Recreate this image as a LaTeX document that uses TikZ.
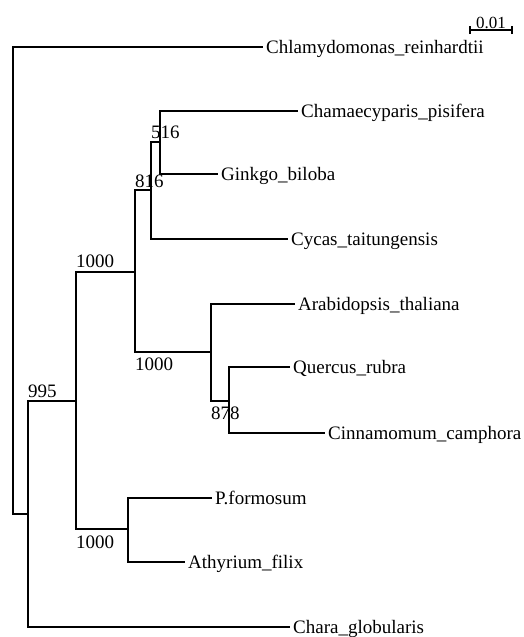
\documentclass[tikz,border=0pt]{standalone}
\usepackage{fontspec}
\setmainfont{Liberation Serif}
\begin{document}
\begin{tikzpicture}[x=1pt,y=-1pt,
  br/.style={line width=1.2pt, black},
  leaf/.style={anchor=west, inner xsep=3pt, inner ysep=0pt, text height=13pt, text depth=0pt, font=\fontsize{19}{19}\selectfont},
  boot/.style={anchor=base west, inner sep=0pt, font=\fontsize{19}{19}\selectfont},
  scalelbl/.style={anchor=base, inner sep=0pt, font=\fontsize{17}{17}\selectfont}]
\useasboundingbox (0,0) rectangle (524,637);
% internal nodes
\coordinate (root) at (13,280);
\coordinate (a) at (28,514);
\coordinate (b) at (76,401);
\coordinate (c) at (135,272);
\coordinate (d) at (151,190);
\coordinate (e) at (160,142);
\coordinate (g) at (211,352);
\coordinate (h) at (229,401);
\coordinate (f) at (128,529);
% leaves
\node[leaf] (chlam) at (263,47) {Chlamydomonas\_reinhardtii};
\node[leaf] (chama) at (298,111) {Chamaecyparis\_pisifera};
\node[leaf] (ginkgo) at (218,174) {Ginkgo\_biloba};
\node[leaf] (cycas) at (288,239) {Cycas\_taitungensis};
\node[leaf] (arab) at (295,304) {Arabidopsis\_thaliana};
\node[leaf] (quer) at (290,367) {Quercus\_rubra};
\node[leaf] (cinn) at (325,433) {Cinnamomum\_camphora};
\node[leaf] (pfor) at (212,498) {P.formosum};
\node[leaf] (athy) at (185,562) {Athyrium\_filix};
\node[leaf] (chara) at (290,627) {Chara\_globularis};
% branches
\draw[br] (root) |- (chlam.west);
\draw[br] (root) |- (a);
\draw[br] (a) |- (b);
\draw[br] (a) |- (chara.west);
\draw[br] (b) |- (c);
\draw[br] (b) |- (f);
\draw[br] (c) |- (d);
\draw[br] (c) |- (g);
\draw[br] (d) |- (e);
\draw[br] (d) |- (cycas.west);
\draw[br] (e) |- (chama.west);
\draw[br] (e) |- (ginkgo.west);
\draw[br] (g) |- (arab.west);
\draw[br] (g) |- (h);
\draw[br] (h) |- (quer.west);
\draw[br] (h) |- (cinn.west);
\draw[br] (f) |- (pfor.west);
\draw[br] (f) |- (athy.west);
% bootstrap values
\node[boot] (l995) at (28,397) {995};
\node[boot] (l1000a) at (76,267) {1000};
\node[boot] (l816) at (135,187) {816};
\node[boot] (l516) at (151,138) {516};
\node[boot] (l1000b) at (135,370) {1000};
\node[boot] (l878) at (211,419) {878};
\node[boot] (l1000c) at (76,548) {1000};
% scale bar
\coordinate (sL) at (470,30);
\coordinate (sR) at (512,30);
\draw[br] (sL) -- (sR);
\draw[br] ([yshift=-4pt]sL) -- ([yshift=4pt]sL);
\draw[br] ([yshift=-4pt]sR) -- ([yshift=4pt]sR);
\node[scalelbl] (slbl) at (491,28) {0.01};
\end{tikzpicture}
\end{document}
